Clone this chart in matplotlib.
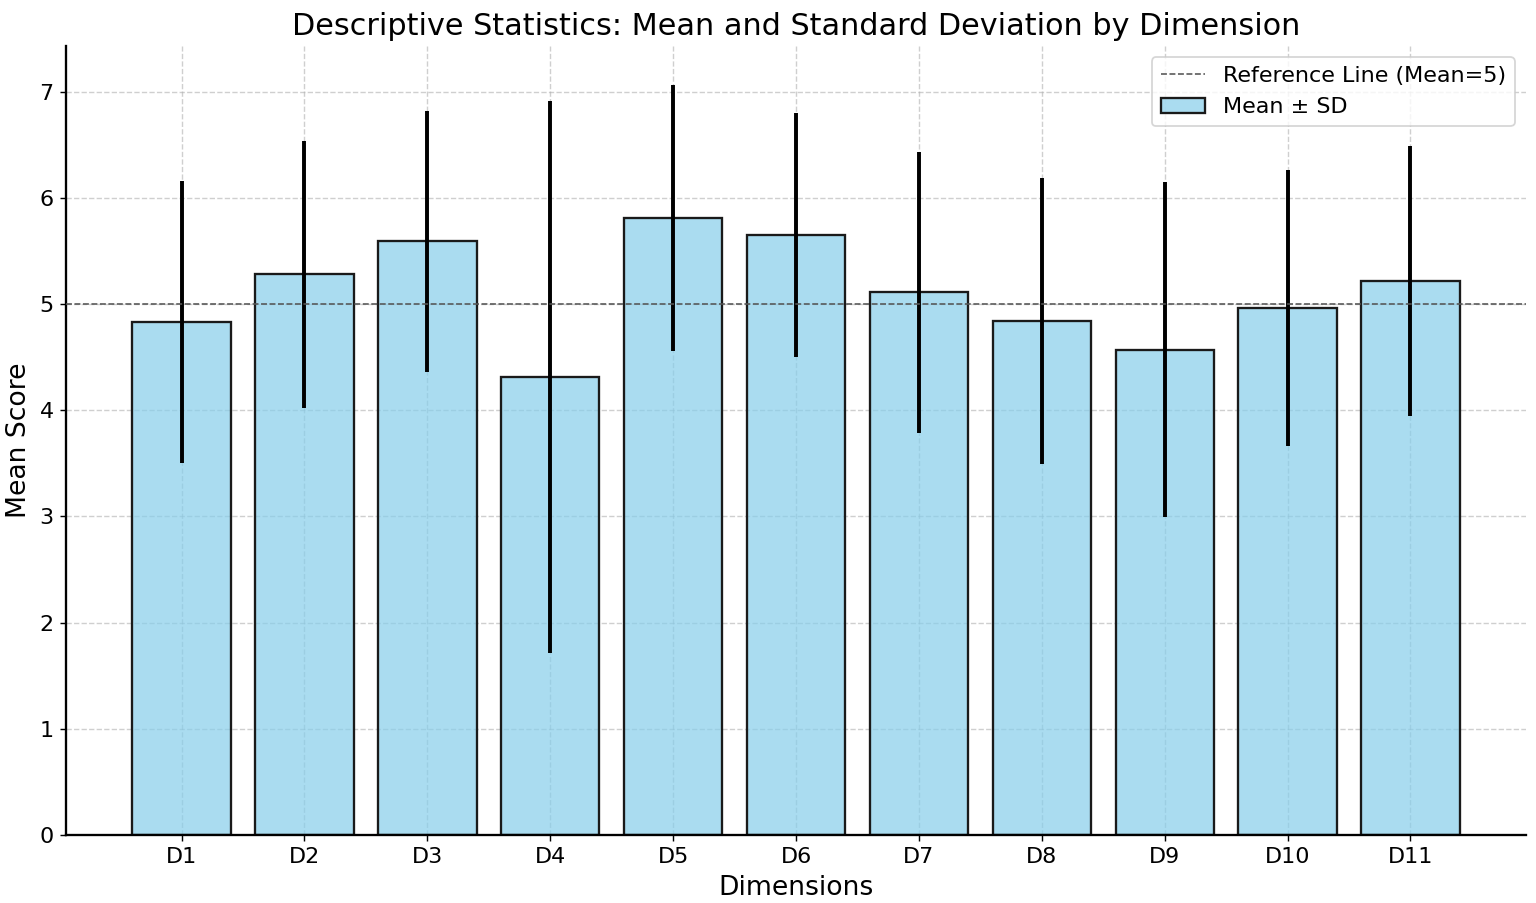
import matplotlib
matplotlib.use("Agg")
import matplotlib.pyplot as plt
import numpy as np
from matplotlib.colors import to_rgba

dimensions = ["D1", "D2", "D3", "D4", "D5", "D6", "D7", "D8", "D9", "D10", "D11"]
means = [4.83, 5.28, 5.59, 4.31, 5.81, 5.65, 5.11, 4.84, 4.57, 4.96, 5.22]
sds = [1.33, 1.26, 1.23, 2.60, 1.25, 1.15, 1.32, 1.35, 1.58, 1.30, 1.27]
ref_value = 5

fig, ax = plt.subplots(figsize=(12, 7.055), dpi=128)

x = np.arange(len(dimensions))
ax.bar(x, means, yerr=sds, color=to_rgba("skyblue", 0.7), edgecolor="#1a1a1a",
       linewidth=1.3, error_kw=dict(ecolor="black", elinewidth=2.2, capsize=0),
       label="Mean \u00b1 SD", zorder=2)
ax.axhline(ref_value, color="#555555", linestyle="--", linewidth=0.9,
           label="Reference Line (Mean=5)", zorder=3)

ax.set_xticks(x)
ax.set_xticklabels(dimensions, fontsize=12.5)
ax.tick_params(axis="y", labelsize=12.5)
ax.set_xlabel("Dimensions", fontsize=15)
ax.set_ylabel("Mean Score", fontsize=15)
ax.set_title("Descriptive Statistics: Mean and Standard Deviation by Dimension",
             fontsize=17)
ax.set_ylim(0, 7.43)
ax.grid(True, linestyle="--", alpha=0.6, zorder=0)
ax.set_axisbelow(True)
for s in ["top", "right"]:
    ax.spines[s].set_visible(False)
ax.spines["left"].set_linewidth(1.3)
ax.spines["bottom"].set_linewidth(1.3)
ax.legend(fontsize=12.5, loc="upper right")

plt.subplots_adjust(left=0.043, right=0.9935, bottom=0.0753, top=0.949)
plt.savefig("out.png", dpi=128)
